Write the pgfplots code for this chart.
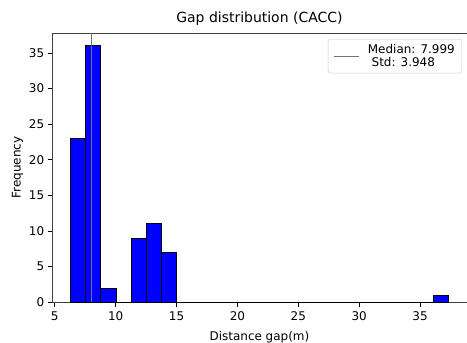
\documentclass[border=0pt]{standalone}
\usepackage{pgfplots}
\pgfplotsset{compat=1.18}
\usepackage{fontspec}
\setmainfont{DejaVu Sans}
\begin{document}
\begin{tikzpicture}
\begin{axis}[
  scale only axis,
  width=416bp, height=270bp,
  xmin=4.76, xmax=38.86,
  ymin=0, ymax=37.8,
  xtick={5,10,...,35},
  ytick={0,5,...,35},
  tick align=outside,
  xtick pos=bottom, ytick pos=left,
  major tick length=4.2bp,
  tick style={black, line width=0.7pt},
  axis line style={line width=0.7pt, black!75},
  /pgf/number format/assume math mode=true,
  ticklabel style={font=\fontsize{12bp}{14bp}\selectfont},
  xticklabel style={yshift=-2bp},
  label style={font=\fontsize{12bp}{14bp}\selectfont},
  xlabel={Distance gap(m)},
  ylabel={Frequency},
  xlabel style={yshift=-3bp},
  ylabel style={yshift=-1bp},
  title={Gap distribution (CACC)},
  title style={font=\fontsize{14bp}{16bp}\selectfont, yshift=-2bp},
  legend style={at={(1,1)}, anchor=north east, xshift=-5bp, yshift=-6bp,
    draw=black!20, rounded corners=2.5bp, font=\fontsize{12bp}{13.5bp}\selectfont,
    cells={align=left}, inner xsep=5bp, inner ysep=3bp},
  legend image code/.code={\draw[#1] (0cm,0cm) -- (25bp,0cm); \path (32bp,0cm);},
  legend cell align=left,
]
% histogram counts per bin (left edge, count); last row closes the interval
\addplot [ybar interval, fill={rgb,255:red,0;green,0;blue,255}, draw=black, line width=1pt, forget plot] table {
x y
6.31 23
7.55 36
8.79 2
10.03 0
11.27 9
12.51 11
13.75 7
14.99 0
16.23 0
17.47 0
18.71 0
19.95 0
21.19 0
22.43 0
23.67 0
24.91 0
26.15 0
27.39 0
28.63 0
29.87 0
31.11 0
32.35 0
33.59 0
34.83 0
36.07 1
37.31 1
};
% median marker
\addplot [black!55, line width=0.8pt] coordinates {(7.999,0) (7.999,37.8)};
\addlegendentry{Median: 7.999\\\ Std: 3.948}
\end{axis}
\pgfresetboundingbox
\path ([xshift=-52bp,yshift=-40bp]current axis.south west) rectangle ([xshift=0bp,yshift=33bp]current axis.north east);
\end{tikzpicture}
\end{document}
